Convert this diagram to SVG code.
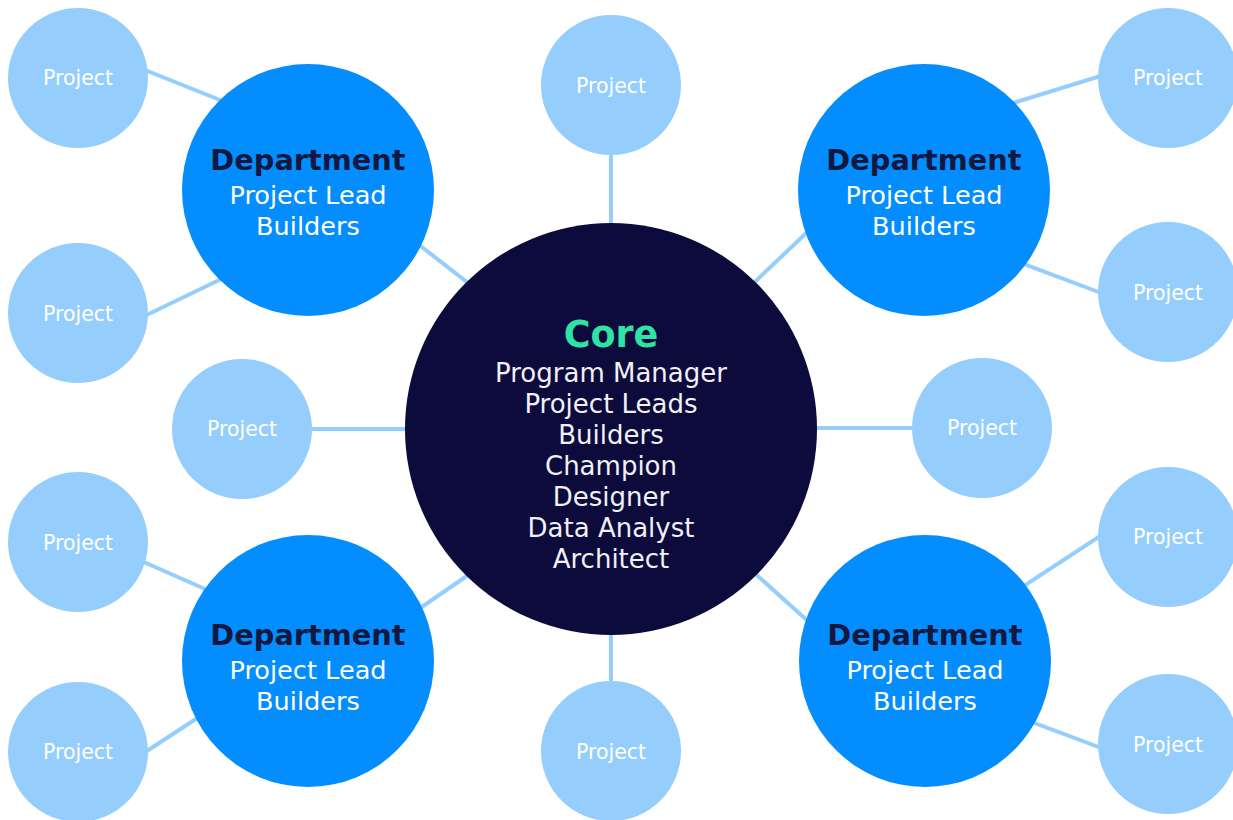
<svg xmlns="http://www.w3.org/2000/svg" width="1233" height="820" viewBox="0 0 1233 820">
<style>
.proj{fill:#95CEFD}
.dept{fill:#048DFE}
.core{fill:#0C0B3C}
.conn line{stroke:#95CEFD;stroke-width:4}
text{font-family:"DejaVu Sans","Noto Sans",sans-serif;text-anchor:middle}
.pt{font-size:20.5px;fill:#FFFFFF}
.dt{font-size:28.8px;font-weight:bold;fill:#13183F}
.dl{font-size:25.6px;fill:#FFFFFF}
.ct{font-size:36.5px;font-weight:bold;fill:#2FE3A3}
.cl{font-size:26px;fill:#F0F0F6}
</style>
<rect width="1233" height="820" fill="#FFFFFF"/>
<g id="connectors" class="conn">
<line x1="130" y1="64" x2="240" y2="108"/>
<line x1="130" y1="323" x2="240" y2="270"/>
<line x1="400" y1="230" x2="490" y2="300"/>
<line x1="611" y1="140" x2="611" y2="240"/>
<line x1="740" y1="296" x2="820" y2="220"/>
<line x1="1000" y1="107" x2="1120" y2="70"/>
<line x1="1010" y1="259" x2="1120" y2="300"/>
<line x1="300" y1="429" x2="420" y2="429"/>
<line x1="800" y1="428" x2="925" y2="428"/>
<line x1="400" y1="622" x2="490" y2="560"/>
<line x1="740" y1="560" x2="820" y2="632"/>
<line x1="611" y1="620" x2="611" y2="700"/>
<line x1="130" y1="556" x2="230" y2="600"/>
<line x1="130" y1="762" x2="225" y2="700"/>
<line x1="1010" y1="595" x2="1120" y2="523"/>
<line x1="1010" y1="714" x2="1120" y2="755"/>
</g>
<g id="p-tl1"><circle class="proj" cx="78" cy="78" r="70"/><text class="pt" x="78" y="85">Project</text></g>
<g id="p-tl2"><circle class="proj" cx="78" cy="313" r="70"/><text class="pt" x="78" y="321">Project</text></g>
<g id="p-top"><circle class="proj" cx="611" cy="85" r="70"/><text class="pt" x="611" y="93">Project</text></g>
<g id="p-tr1"><circle class="proj" cx="1168" cy="78" r="70"/><text class="pt" x="1168" y="85">Project</text></g>
<g id="p-tr2"><circle class="proj" cx="1168" cy="292" r="70"/><text class="pt" x="1168" y="300">Project</text></g>
<g id="p-left"><circle class="proj" cx="242" cy="429" r="70"/><text class="pt" x="242" y="436">Project</text></g>
<g id="p-right"><circle class="proj" cx="982" cy="428" r="70"/><text class="pt" x="982" y="435">Project</text></g>
<g id="p-bl1"><circle class="proj" cx="78" cy="542" r="70"/><text class="pt" x="78" y="550">Project</text></g>
<g id="p-bl2"><circle class="proj" cx="78" cy="752" r="70"/><text class="pt" x="78" y="759">Project</text></g>
<g id="p-bottom"><circle class="proj" cx="611" cy="751" r="70"/><text class="pt" x="611" y="759">Project</text></g>
<g id="p-br1"><circle class="proj" cx="1168" cy="537" r="70"/><text class="pt" x="1168" y="544">Project</text></g>
<g id="p-br2"><circle class="proj" cx="1168" cy="744" r="70"/><text class="pt" x="1168" y="752">Project</text></g>
<g id="dept-tl"><circle class="dept" cx="308" cy="190" r="126"/><text class="dt" x="308" y="170">Department</text><text class="dl" x="308" y="204">Project Lead</text><text class="dl" x="308" y="235">Builders</text></g>
<g id="dept-tr"><circle class="dept" cx="924" cy="190" r="126"/><text class="dt" x="924" y="170">Department</text><text class="dl" x="924" y="204">Project Lead</text><text class="dl" x="924" y="235">Builders</text></g>
<g id="dept-bl"><circle class="dept" cx="308" cy="661" r="126"/><text class="dt" x="308" y="645">Department</text><text class="dl" x="308" y="679">Project Lead</text><text class="dl" x="308" y="710">Builders</text></g>
<g id="dept-br"><circle class="dept" cx="925" cy="661" r="126"/><text class="dt" x="925" y="645">Department</text><text class="dl" x="925" y="679">Project Lead</text><text class="dl" x="925" y="710">Builders</text></g>
<g id="core"><circle class="core" cx="611" cy="429" r="206"/>
<text class="ct" x="611" y="347">Core</text>
<text class="cl" x="611" y="382">Program Manager</text>
<text class="cl" x="611" y="413">Project Leads</text>
<text class="cl" x="611" y="444">Builders</text>
<text class="cl" x="611" y="475">Champion</text>
<text class="cl" x="611" y="506">Designer</text>
<text class="cl" x="611" y="537">Data Analyst</text>
<text class="cl" x="611" y="568">Architect</text>
</g>
</svg>
